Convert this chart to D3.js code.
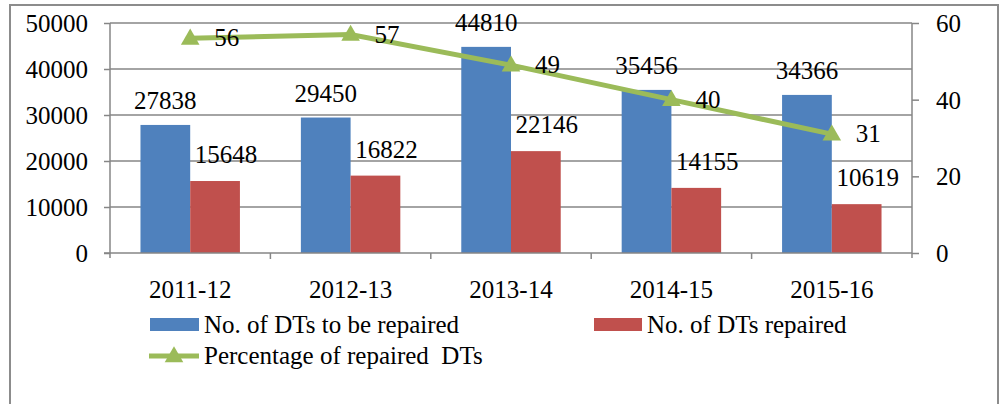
<!DOCTYPE html>
<html>
<head>
<meta charset="utf-8">
<script src="https://cdn.jsdelivr.net/npm/d3@7"></script>
</head>
<body style="margin:0">
<svg id="chart" width="1005" height="404" font-family="Liberation Serif" font-size="25"></svg>
<script>
// data
var categories = ["2011-12", "2012-13", "2013-14", "2014-15", "2015-16"];
var toBeRepaired = [27838, 29450, 44810, 35456, 34366];
var repaired = [15648, 16822, 22146, 14155, 10619];
var percentRepaired = [56, 57, 49, 40, 31];
var leftTicks = [0, 10000, 20000, 30000, 40000, 50000];
var rightTicks = [0, 20, 40, 60];

var W = 1005, H = 404;
var margin = {top: 23, right: 93, bottom: 151, left: 110}
  , width = W - margin.left - margin.right
  , height = H - margin.top - margin.bottom;

var blue = "#4F81BD", red = "#C0504D", green = "#9BBB59", grey = "#868686";

var svg = d3.select("#chart");

// outer frame
svg.append("rect")
  .attr("x", 10).attr("y", 5).attr("width", 988).attr("height", 420)
  .attr("fill", "none").attr("stroke", "#8c8c8c").attr("stroke-width", 2);

var x = d3.scaleBand().domain(categories).range([0, width]);
var y = d3.scaleLinear().domain([0, 50000]).range([height, 0]);
var y2 = d3.scaleLinear().domain([0, 60]).range([height, 0]);

var g = svg.append("g").attr("transform", "translate(" + margin.left + "," + margin.top + ")");

// gridlines
g.append("g").selectAll("line").data(leftTicks.slice(1)).enter().append("line")
  .attr("x1", 0).attr("x2", width)
  .attr("y1", d => y(d)).attr("y2", d => y(d))
  .attr("stroke", grey).attr("stroke-width", 1.5);

// left axis (tick marks only, labels drawn below)
var yAxis = g.append("g")
  .call(d3.axisLeft(y).tickValues(leftTicks).tickSize(6).tickFormat(""));
yAxis.select(".domain").remove();
yAxis.selectAll("line").attr("stroke", grey).attr("stroke-width", 1.5);
g.append("g").selectAll("text").data(leftTicks).enter().append("text")
  .attr("x", -22).attr("y", d => y(d) + 9)
  .attr("text-anchor", "end")
  .text(d => d);
g.append("line").attr("x1", 0).attr("x2", 0).attr("y1", 0).attr("y2", height + 5)
  .attr("stroke", grey).attr("stroke-width", 1.5);

// right axis
var y2Axis = g.append("g").attr("transform", "translate(" + width + ",0)")
  .call(d3.axisRight(y2).tickValues(rightTicks).tickSize(7).tickFormat(""));
y2Axis.select(".domain").remove();
y2Axis.selectAll("line").attr("stroke", grey).attr("stroke-width", 1.5);
g.append("g").selectAll("text").data(rightTicks).enter().append("text")
  .attr("x", width + 24).attr("y", d => y2(d) + 9)
  .text(d => d);
g.append("line").attr("x1", width).attr("x2", width).attr("y1", 0).attr("y2", height + 5)
  .attr("stroke", grey).attr("stroke-width", 1.5);

var bw = x.bandwidth() * 0.31;

// blue bars
g.selectAll(".bar1").data(toBeRepaired).enter().append("rect")
  .attr("class", "bar1")
  .attr("x", (d, i) => x(categories[i]) + x.bandwidth() / 2 - bw)
  .attr("y", d => y(d))
  .attr("width", bw)
  .attr("height", d => height - y(d))
  .attr("fill", blue);

// red bars
g.selectAll(".bar2").data(repaired).enter().append("rect")
  .attr("class", "bar2")
  .attr("x", (d, i) => x(categories[i]) + x.bandwidth() / 2)
  .attr("y", d => y(d))
  .attr("width", bw)
  .attr("height", d => height - y(d))
  .attr("fill", red);

// x axis
g.append("line").attr("x1", -6).attr("x2", width).attr("y1", height).attr("y2", height)
  .attr("stroke", grey).attr("stroke-width", 1.5);
g.append("g").selectAll("line").data(categories.slice(1)).enter().append("line")
  .attr("x1", d => x(d)).attr("x2", d => x(d))
  .attr("y1", height).attr("y2", height + 6)
  .attr("stroke", grey).attr("stroke-width", 1.5);
g.append("g").selectAll("text").data(categories).enter().append("text")
  .attr("x", d => x(d) + x.bandwidth() / 2)
  .attr("y", height + 45)
  .attr("text-anchor", "middle")
  .text(d => d);

// bar labels
g.selectAll(".lab1").data(toBeRepaired).enter().append("text")
  .attr("x", (d, i) => x(categories[i]) + x.bandwidth() / 2 - bw / 2)
  .attr("y", d => y(d) - 16)
  .attr("text-anchor", "middle")
  .text(d => d);
g.selectAll(".lab2").data(repaired).enter().append("text")
  .attr("x", (d, i) => x(categories[i]) + x.bandwidth() / 2 + bw / 2 + 11)
  .attr("y", d => y(d) - 18)
  .attr("text-anchor", "middle")
  .text(d => d);

// percentage line
var line = d3.line()
  .x((d, i) => x(categories[i]) + x.bandwidth() / 2)
  .y(d => y2(d));
g.append("path").datum(percentRepaired)
  .attr("d", line)
  .attr("fill", "none").attr("stroke", green).attr("stroke-width", 5);

var tri = d3.symbol().type(d3.symbolTriangle).size(150);
g.selectAll(".marker").data(percentRepaired).enter().append("path")
  .attr("transform", (d, i) => "translate(" + (x(categories[i]) + x.bandwidth() / 2) + "," + (y2(d) + 1) + ")")
  .attr("d", tri)
  .attr("fill", green);

g.selectAll(".lab3").data(percentRepaired).enter().append("text")
  .attr("x", (d, i) => x(categories[i]) + x.bandwidth() / 2 + 24)
  .attr("y", d => y2(d) + 8)
  .text(d => d);

// legend
var leg = svg.append("g");
leg.append("rect").attr("x", 150).attr("y", 318).attr("width", 49).attr("height", 13).attr("fill", blue);
leg.append("text").attr("x", 204).attr("y", 333).text("No. of DTs to be repaired");
leg.append("rect").attr("x", 594).attr("y", 318).attr("width", 48).attr("height", 13).attr("fill", red);
leg.append("text").attr("x", 647).attr("y", 333).text("No. of DTs repaired");
leg.append("line").attr("x1", 149).attr("x2", 199).attr("y1", 356).attr("y2", 356)
  .attr("stroke", green).attr("stroke-width", 5);
leg.append("path").attr("transform", "translate(174,357)").attr("d", tri).attr("fill", green);
leg.append("text").attr("x", 204).attr("y", 364).style("white-space", "pre")
  .text("Percentage of repaired  DTs");
</script>
</body>
</html>
